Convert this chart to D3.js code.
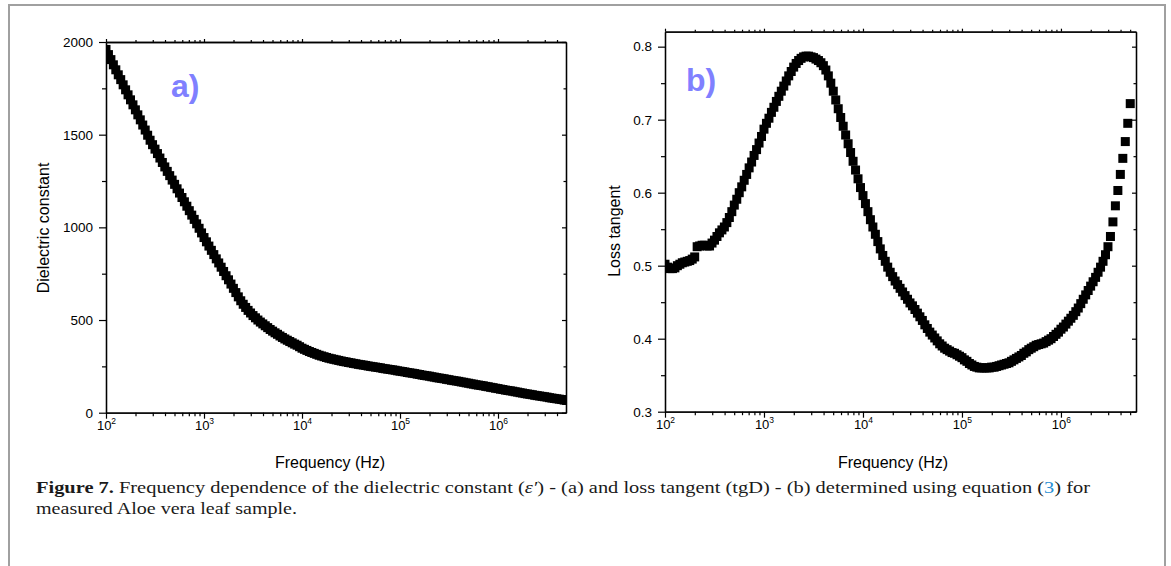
<!DOCTYPE html>
<html>
<head>
<meta charset="utf-8">
<script src="https://cdn.jsdelivr.net/npm/d3@7"></script>
<style>
  html, body { margin: 0; padding: 0; background: #fff; }
  svg { display: block; }
</style>
</head>
<body>
<svg id="chart" width="1171" height="566"></svg>
<script>
// ---------------- DATA ----------------
const frequency = [
  100, 105.9, 112.2, 118.9, 125.9, 133.4, 141.3, 149.6, 158.5, 167.9,
  177.8, 188.4, 199.5, 211.3, 223.9, 237.1, 251.2, 266.1, 281.8, 298.5,
  316.2, 335.0, 354.8, 375.8, 398.1, 421.7, 446.7, 473.2, 501.2, 530.9,
  562.3, 595.7, 631.0, 668.3, 707.9, 749.9, 794.3, 841.4, 891.3, 944.1,
  1000, 1059, 1122, 1189, 1259, 1334, 1413, 1496, 1585, 1679,
  1778, 1884, 1995, 2113, 2239, 2371, 2512, 2661, 2818, 2985,
  3162, 3350, 3548, 3758, 3981, 4217, 4467, 4732, 5012, 5309,
  5623, 5957, 6310, 6683, 7079, 7499, 7943, 8414, 8913, 9441,
  10000, 10590, 11220, 11890, 12590, 13340, 14130, 14960, 15850, 16790,
  17780, 18840, 19950, 21130, 22390, 23710, 25120, 26610, 28180, 29850,
  31620, 33500, 35480, 37580, 39810, 42170, 44670, 47320, 50120, 53090,
  56230, 59570, 63100, 66830, 70790, 74990, 79430, 84140, 89130, 94410,
  100000, 105900, 112200, 118900, 125900, 133400, 141300, 149600, 158500, 167900,
  177800, 188400, 199500, 211300, 223900, 237100, 251200, 266100, 281800, 298500,
  316200, 335000, 354800, 375800, 398100, 421700, 446700, 473200, 501200, 530900,
  562300, 595700, 631000, 668300, 707900, 749900, 794300, 841400, 891300, 944100,
  1000000, 1059000, 1122000, 1189000, 1259000, 1334000, 1413000, 1496000, 1585000, 1679000,
  1778000, 1884000, 1995000, 2113000, 2239000, 2371000, 2512000, 2661000, 2818000, 2985000,
  3162000, 3350000, 3548000, 3758000, 3981000, 4217000, 4467000, 4732000, 5012000
];
const dielectricConstant = [
  1960, 1932, 1905, 1877, 1850, 1823, 1797, 1769, 1742, 1715,
  1688, 1661, 1634, 1607, 1580, 1552, 1525, 1497, 1470, 1446,
  1422, 1398, 1374, 1350, 1326, 1302, 1279, 1255, 1232, 1208,
  1185, 1161, 1138, 1114, 1090, 1066, 1043, 1019, 995, 970,
  945, 922, 899, 876, 853, 830, 808, 785, 762, 739,
  717, 694, 671, 648, 625, 604, 585, 568, 552, 538,
  524, 512, 500, 489, 479, 469, 459, 449, 440, 431,
  423, 414, 406, 398, 391, 384, 377, 370, 364, 356,
  348, 342, 336, 330, 325, 320, 315, 310, 306, 302,
  298, 294, 291, 288, 285, 282, 279, 276, 274, 271,
  269, 266, 264, 261, 259, 257, 255, 252, 250, 248,
  246, 244, 242, 239, 237, 235, 233, 231, 229, 226,
  224, 222, 220, 217, 215, 213, 211, 208, 206, 203,
  201, 199, 197, 194, 192, 189, 187, 185, 183, 180,
  178, 175, 173, 171, 169, 166, 164, 161, 159, 156,
  154, 151, 149, 147, 145, 142, 140, 137, 135, 132,
  130, 127, 125, 122, 120, 118, 116, 113, 111, 108,
  106, 103, 101, 99, 97, 94, 92, 90, 88, 86,
  84, 81, 79, 77, 75, 73, 71, 68, 66
];
const lossTangent = [
  0.502, 0.498, 0.496, 0.496, 0.497, 0.500, 0.502, 0.504, 0.505, 0.506,
  0.507, 0.509, 0.512, 0.526, 0.527, 0.528, 0.528, 0.527, 0.527, 0.531,
  0.535, 0.540, 0.545, 0.549, 0.553, 0.559, 0.566, 0.574, 0.583, 0.591,
  0.600, 0.608, 0.617, 0.625, 0.634, 0.642, 0.651, 0.659, 0.668, 0.677,
  0.687, 0.695, 0.702, 0.710, 0.717, 0.725, 0.732, 0.739, 0.746, 0.753,
  0.760, 0.766, 0.772, 0.777, 0.781, 0.784, 0.786, 0.787, 0.787, 0.786,
  0.785, 0.783, 0.781, 0.778, 0.774, 0.768, 0.760, 0.750, 0.739, 0.727,
  0.715, 0.703, 0.691, 0.679, 0.667, 0.655, 0.643, 0.631, 0.619, 0.607,
  0.596, 0.585, 0.574, 0.563, 0.553, 0.543, 0.533, 0.523, 0.514, 0.506,
  0.498, 0.491, 0.485, 0.479, 0.474, 0.469, 0.464, 0.459, 0.454, 0.449,
  0.445, 0.440, 0.435, 0.430, 0.425, 0.419, 0.414, 0.409, 0.405, 0.401,
  0.397, 0.393, 0.390, 0.387, 0.385, 0.383, 0.381, 0.380, 0.378, 0.376,
  0.374, 0.371, 0.369, 0.366, 0.364, 0.362, 0.361, 0.360, 0.360, 0.360,
  0.360, 0.360, 0.361, 0.361, 0.362, 0.363, 0.364, 0.365, 0.366, 0.367,
  0.369, 0.371, 0.373, 0.375, 0.377, 0.380, 0.382, 0.385, 0.387, 0.389,
  0.391, 0.392, 0.393, 0.394, 0.396, 0.398, 0.400, 0.403, 0.406, 0.409,
  0.413, 0.416, 0.420, 0.424, 0.428, 0.432, 0.437, 0.442, 0.448, 0.454,
  0.460, 0.466, 0.472, 0.478, 0.484, 0.491, 0.498, 0.506, 0.515, 0.526,
  0.540, 0.560, 0.582, 0.603, 0.625, 0.647, 0.670, 0.695, 0.722
];
const xMajorTicks = [1e2, 1e3, 1e4, 1e5, 1e6];
const xExponents = ["2", "3", "4", "5", "6"];
const yTicksA = [0, 500, 1000, 1500, 2000];
const yMinorA = [250, 750, 1250, 1750];
const yTicksB = [0.3, 0.4, 0.5, 0.6, 0.7, 0.8];
const yMinorB = [0.35, 0.45, 0.55, 0.65, 0.75];
const yLabelA = "Dielectric constant";
const yLabelB = "Loss tangent";
const xLabel = "Frequency (Hz)";

// ---------------- DRAW ----------------
const svg = d3.select("#chart");
const sans = "'Liberation Sans', Arial, sans-serif";
const serif = "'Liberation Serif', 'Times New Roman', serif";

// figure frame (grey)
svg.append("path")
  .attr("d", "M9,570 L9,5 L1165,5 L1165,570")
  .attr("fill", "none").attr("stroke", "#a0a0a0").attr("stroke-width", 2);

function xMinors(domain) {
  const out = [];
  for (let d = 100; d <= domain[1]; d *= 10) {
    for (let m = 2; m <= 9; m++) { const v = d * m; if (v <= domain[1]) out.push(v); }
  }
  return out;
}

function panel(opt) {
  const x = d3.scaleLog().domain(opt.xDomain).range([opt.left, opt.right]);
  const y = d3.scaleLinear().domain(opt.yDomain).range([opt.bottom, opt.top]);
  const g = svg.append("g");
  const minors = xMinors(opt.xDomain);
  const ms = 9;

  const clipId = "clip-" + opt.id;
  svg.append("clipPath").attr("id", clipId).append("rect")
    .attr("x", opt.left).attr("y", opt.clipTop).attr("width", opt.right - opt.left + opt.clipRightExtra)
    .attr("height", opt.bottom - opt.clipTop);

  // data markers
  const n = Math.min(frequency.length, opt.values.length);
  g.append("g").attr("clip-path", `url(#${clipId})`)
    .selectAll("rect").data(d3.range(n).map(i => [frequency[i], opt.values[i]]))
    .join("rect")
    .attr("x", d => x(d[0]) - ms / 2).attr("y", d => y(d[1]) - ms / 2)
    .attr("width", ms).attr("height", ms).attr("fill", "#000");

  const style = sel => {
    sel.select(".domain").attr("stroke", "#000").attr("stroke-width", 1.3);
    sel.selectAll(".tick line").attr("stroke", "#000").attr("stroke-width", 1.2);
  };

  // bottom axis
  const bottom = g.append("g").attr("transform", `translate(0,${opt.bottom})`)
    .call(d3.axisBottom(x).tickValues(xMajorTicks).tickSize(6).tickSizeOuter(0).tickFormat(""));
  style(bottom);
  bottom.selectAll(".tick text").remove();
  bottom.selectAll(".tick").each(function(d, i) {
    const t = d3.select(this).append("text")
      .attr("y", 17).attr("fill", "#000").attr("text-anchor", "middle")
      .attr("font-family", sans).style("font-size", "13px");
    t.append("tspan").text("10");
    t.append("tspan").text(xExponents[i]).style("font-size", "8.5px").attr("dy", -5.5);
  });
  const bottomMinor = g.append("g").attr("transform", `translate(0,${opt.bottom})`)
    .call(d3.axisBottom(x).tickValues(minors).tickSize(3.5).tickSizeOuter(0).tickFormat(""));
  style(bottomMinor);

  // top axis (mirror)
  const top = g.append("g").attr("transform", `translate(0,${opt.top})`)
    .call(d3.axisTop(x).tickValues(xMajorTicks).tickSize(3).tickSizeOuter(0).tickFormat(""));
  style(top);
  const topMinor = g.append("g").attr("transform", `translate(0,${opt.top})`)
    .call(d3.axisTop(x).tickValues(minors).tickSize(2).tickSizeOuter(0).tickFormat(""));
  style(topMinor);

  // left axis
  const left = g.append("g").attr("transform", `translate(${opt.left},0)`)
    .call(d3.axisLeft(y).tickValues(opt.yTicks).tickSize(7).tickSizeOuter(0).tickPadding(6).tickFormat(opt.yFormat));
  style(left);
  left.selectAll(".tick text").attr("font-family", sans).style("font-size", "13.5px").attr("fill", "#000");
  const leftMinor = g.append("g").attr("transform", `translate(${opt.left},0)`)
    .call(d3.axisLeft(y).tickValues(opt.yMinor).tickSize(4).tickSizeOuter(0).tickFormat(""));
  style(leftMinor);

  // right axis (mirror, inward ticks)
  const right = g.append("g").attr("transform", `translate(${opt.right},0)`)
    .call(d3.axisRight(y).tickValues(opt.yTicks).tickSize(-4).tickSizeOuter(0).tickFormat(""));
  style(right);
  const rightMinor = g.append("g").attr("transform", `translate(${opt.right},0)`)
    .call(d3.axisRight(y).tickValues(opt.yMinor).tickSize(-2.5).tickSizeOuter(0).tickFormat(""));
  style(rightMinor);

  // axis titles
  g.append("text").attr("x", opt.xTitleX).attr("y", 468).attr("text-anchor", "middle")
    .attr("font-family", sans).attr("font-size", 16).attr("fill", "#000").text(xLabel);
  g.append("text").attr("transform", `translate(${opt.yTitleX},${opt.yTitleY}) rotate(-90)`)
    .attr("text-anchor", "middle").attr("font-family", sans).attr("font-size", 16)
    .attr("fill", "#000").text(opt.yTitle);

  // panel letter
  g.append("text").attr("x", opt.letterX).attr("y", opt.letterY)
    .attr("font-family", sans).attr("font-weight", "bold").attr("font-size", 32)
    .attr("fill", "#8080ff").text(opt.letter);
}

panel({
  id: "a", values: dielectricConstant,
  xDomain: [100, 4.94e6], yDomain: [0, 2000],
  left: 106, right: 566, top: 42, bottom: 412.7, clipTop: 36, clipRightExtra: 0,
  yTicks: yTicksA, yMinor: yMinorA, yFormat: d3.format("d"),
  xTitleX: 330, yTitleX: 49, yTitleY: 228, yTitle: yLabelA,
  letter: "a)", letterX: 171, letterY: 97
});

panel({
  id: "b", values: lossTangent,
  xDomain: [100, 5.73e6], yDomain: [0.3, 0.8205],
  left: 665, right: 1136, top: 31.7, bottom: 411.7, clipTop: 20, clipRightExtra: 10,
  yTicks: yTicksB, yMinor: yMinorB, yFormat: d3.format(".1f"),
  xTitleX: 893, yTitleX: 620, yTitleY: 231, yTitle: yLabelB,
  letter: "b)", letterX: 686, letterY: 91
});

// caption
const cap = svg.append("g").attr("font-family", serif).attr("font-size", 16).attr("fill", "#1a1a1a");
const l1 = cap.append("text").attr("x", 36).attr("y", 493)
  .attr("textLength", 1054).attr("lengthAdjust", "spacingAndGlyphs");
l1.append("tspan").attr("font-weight", "bold").text("Figure 7.");
l1.append("tspan").text(" Frequency dependence of the dielectric constant (");
l1.append("tspan").attr("font-style", "italic").text("ε′");
l1.append("tspan").text(") - (a) and loss tangent (tgD) - (b) determined using equation (");
l1.append("tspan").attr("fill", "#2a8fd4").text("3");
l1.append("tspan").text(") for");
cap.append("text").attr("x", 36).attr("y", 514)
  .attr("textLength", 261).attr("lengthAdjust", "spacingAndGlyphs")
  .text("measured Aloe vera leaf sample.");
</script>
</body>
</html>
